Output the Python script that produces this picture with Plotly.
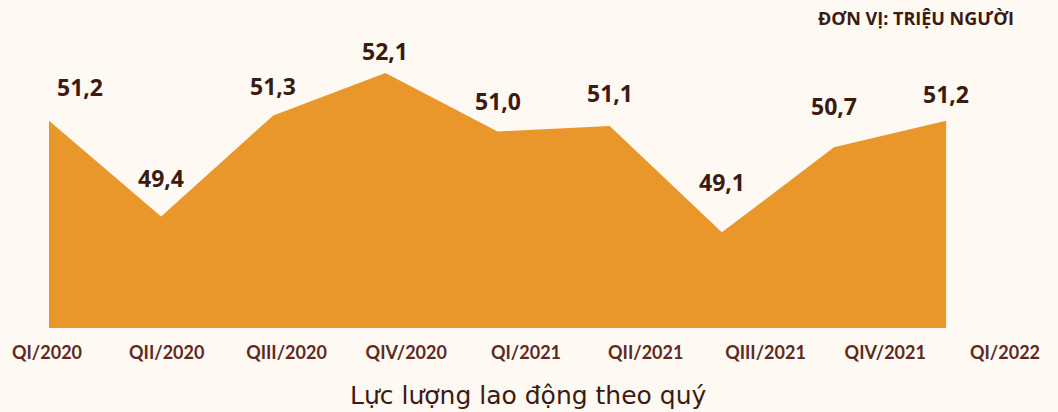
import plotly.graph_objects as go

quarters = ["QI/2020", "QII/2020", "QIII/2020", "QIV/2020", "QI/2021",
            "QII/2021", "QIII/2021", "QIV/2021", "QI/2022"]
workforce = [51.2, 49.4, 51.3, 52.1, 51.0, 51.1, 49.1, 50.7, 51.2]
value_labels = ["51,2", "49,4", "51,3", "52,1", "51,0", "51,1", "49,1", "50,7", "51,2"]

# styling: label offsets (px) above each point
label_yshift = [34, 38, 29, 22, 30, 33, 50, 41, 27]
label_xshift = [31, 0, 0, 0, 0, 0, 0, 0, 0]

BG = "#FEF9F3"
FILL = "#E9962B"
DARK = "#3C1A12"
TICK = "#5E2A1F"

fig = go.Figure()
fig.add_trace(go.Scatter(
    x=quarters, y=workforce, mode="lines", fill="tozeroy",
    line=dict(width=0, color=FILL), fillcolor=FILL,
    hoverinfo="skip", showlegend=False, xaxis="x", yaxis="y",
))
# invisible trace to carry the tick-label axis
fig.add_trace(go.Scatter(
    x=quarters, y=workforce, mode="lines", line=dict(width=0),
    opacity=0, hoverinfo="skip", showlegend=False, xaxis="x2", yaxis="y",
))

for i, (q, v, t) in enumerate(zip(quarters, workforce, value_labels)):
    fig.add_annotation(
        x=q, y=v, xref="x", yref="y", text=t, showarrow=False,
        xanchor="center", yanchor="middle",
        yshift=label_yshift[i], xshift=label_xshift[i],
        font=dict(family="Noto Sans", size=23, color=DARK, weight="bold"),
    )

fig.add_annotation(
    x=1.011, y=1.0, xref="paper", yref="paper", yshift=22,
    text="ĐƠN VỊ: TRIỆU NGƯỜI", showarrow=False, xanchor="right", yanchor="middle",
    font=dict(family="Open Sans", size=18, color=DARK, weight="bold"),
)
fig.add_annotation(
    x=0.503, y=0, xref="paper", yref="paper", yshift=-67,
    text="Lực lượng lao động theo quý", showarrow=False,
    xanchor="center", yanchor="middle",
    font=dict(family="DejaVu Sans", size=25, color=DARK),
)

fig.update_layout(
    width=1058, height=412,
    margin=dict(l=45, r=53, t=40, b=84),
    paper_bgcolor=BG, plot_bgcolor=BG,
    xaxis=dict(type="category", range=[-0.0178, 8.525], showgrid=False,
               zeroline=False, showticklabels=False, showline=False),
    xaxis2=dict(type="category", overlaying="x", anchor="y", side="bottom",
                range=[0, 8], showgrid=False, zeroline=False, showline=False,
                ticks="outside", ticklen=8, tickcolor="rgba(0,0,0,0)",
                tickfont=dict(family="Lato", size=18, color=TICK, weight="bold")),
    yaxis=dict(range=[47.3, 52.72], visible=False, showgrid=False),
)

fig.write_html("out.html", config={"displayModeBar": False},
               post_script="document.body.style.margin='0';")
